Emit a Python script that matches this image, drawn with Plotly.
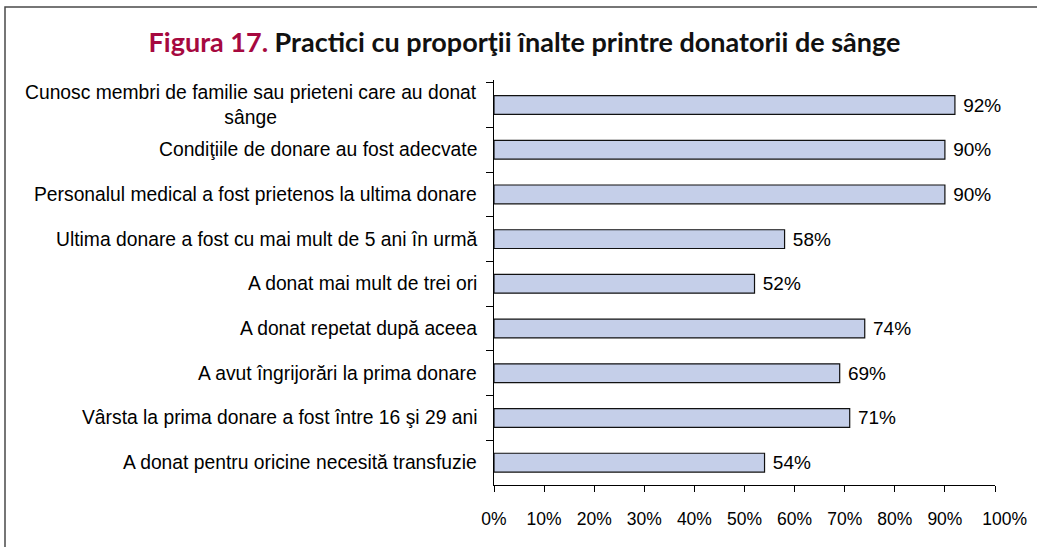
import plotly.graph_objects as go

categories = [
    "Cunosc membri de familie sau prieteni care au donat<br>sânge",
    "Condiţiile de donare au fost adecvate",
    "Personalul medical a fost prietenos la ultima donare",
    "Ultima donare a fost cu mai mult de 5 ani în urmă",
    "A donat mai mult de trei ori",
    "A donat repetat după aceea",
    "A avut îngrijorări la prima donare",
    "Vârsta la prima donare a fost între 16 şi 29 ani",
    "A donat pentru oricine necesită transfuzie",
]
values = [92, 90, 90, 58, 52, 74, 69, 71, 54]
tick_vals = [0, 10, 20, 30, 40, 50, 60, 70, 80, 90, 100]
tick_text = ["0%", "10%", "20%", "30%", "40%", "50%", "60%", "70%", "80%", "90%",
             "\u00a0\u00a0\u00a0\u00a0100%"]

W, H = 1037, 547
L, R, T, B = 494, 42, 80, 62
pw, ph = W - L - R, H - T - B

fig = go.Figure(go.Bar(
    x=values, y=categories, orientation="h",
    marker=dict(color="#C5CFE9", line=dict(color="#111111", width=1.2)),
    width=0.42,
    text=[f"{v}%" for v in values], texttemplate="\u00a0%{text}",
    textposition="outside", constraintext="none",
    textfont=dict(family="Liberation Sans", size=19, color="#000"),
    cliponaxis=False,
))

for c in categories:
    fig.add_annotation(
        x=0, xref="paper", y=c, yref="y", text=c, showarrow=False,
        xanchor="right", yanchor="middle", xshift=-15, align="center",
        font=dict(family="Liberation Sans", size=19.3, color="#000"),
    )

def px(x):
    return (x - L) / pw

def py(y):
    return (H - B - y) / ph

fig.add_shape(type="rect", xref="paper", yref="paper",
              x0=px(5), x1=px(1200), y0=py(700), y1=py(7),
              line=dict(color="#4a4a4a", width=1.5), layer="below")

fig.update_layout(
    width=W, height=H,
    margin=dict(l=L, r=R, t=T, b=B),
    plot_bgcolor="white", paper_bgcolor="white",
    showlegend=False,
    title=dict(
        text="<span style='color:#A6093F'>Figura 17.</span> Practici cu proporţii înalte printre donatorii de sânge",
        x=524.5 / W, xref="container", xanchor="center",
        y=1 - 43 / H, yanchor="middle",
        font=dict(family="Lato", size=27, color="#111", weight="bold"),
    ),
    xaxis=dict(
        range=[0, 100], tickvals=tick_vals, ticktext=tick_text,
        tickangle=0, automargin=False,
        showgrid=False, zeroline=False, showline=True, linecolor="#000", linewidth=1,
        ticks="outside", ticklen=6, tickcolor="#000", ticklabelstandoff=12,
        tickfont=dict(family="Liberation Sans", size=17.5, color="#000"),
    ),
    yaxis=dict(
        autorange="reversed", showticklabels=False, automargin=False,
        showgrid=False, zeroline=False, showline=True, linecolor="#000", linewidth=1,
        ticks="outside", ticklen=7, tickcolor="#000", tickson="boundaries",
    ),
)

fig.write_html("out.html", config={"displayModeBar": False},
               post_script="document.body.style.margin='0px';")
